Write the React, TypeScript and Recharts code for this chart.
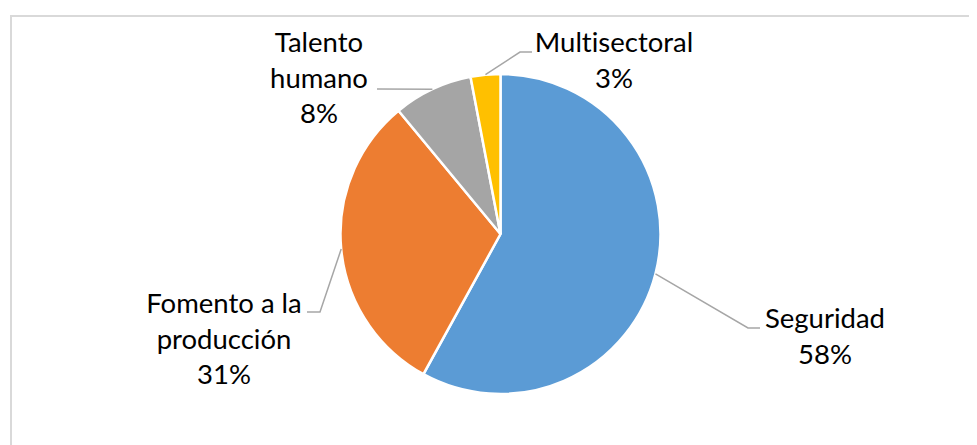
import React from "react";
import { PieChart, Pie, Cell } from "recharts";

const categories = ["Seguridad", "Fomento a la producción", "Talento humano", "Multisectoral"];
const values = [58, 31, 8, 3];
const nameLines = [["Seguridad"], ["Fomento a la", "producción"], ["Talento", "humano"], ["Multisectoral"]];
const colors = ["#5B9BD5", "#ED7D31", "#A5A5A5", "#FFC000"];

const data = categories.map((name, i) => ({ name, value: values[i] }));
const total = values.reduce((a, b) => a + b, 0);

// label placement (chart coordinates)
const labelLayout = [
  { x: 817, y: 320, elbow: [740, 320], end: [752, 320] },
  { x: 216, y: 305, elbow: [312, 304], end: [299, 304] },
  { x: 311, y: 44, elbow: null, end: [369, 81] },
  { x: 606, y: 44, elbow: [512, 44], end: [524, 44] },
];

const FONT = "Lato, 'Open Sans', sans-serif";
const FS = 27.5;
const LH = 35.5;

const RAD = Math.PI / 180;

const renderLabel = (props: any) => {
  const { cx, cy, midAngle, outerRadius, index, value } = props;
  const L = labelLayout[index];
  const sx = cx + outerRadius * Math.cos(-midAngle * RAD);
  const sy = cy + outerRadius * Math.sin(-midAngle * RAD);
  const pts = [[sx, sy]];
  if (L.elbow) pts.push(L.elbow as number[]);
  pts.push(L.end);
  const lines = [...nameLines[index], `${Math.round((value / total) * 100)}%`];
  return (
    <g key={`lbl-${index}`}>
      <polyline
        points={pts.map((p) => p.join(",")).join(" ")}
        fill="none"
        stroke="#A6A6A6"
        strokeWidth={1.5}
      />
      <text
        x={L.x}
        y={L.y}
        textAnchor="middle"
        fontFamily={FONT}
        fontSize={FS}
        fill="#000"
        style={{ fontVariantLigatures: "none" }}
      >
        {lines.map((t, i) => (
          <tspan key={i} x={L.x} y={L.y + i * LH}>
            {t}
          </tspan>
        ))}
      </text>
    </g>
  );
};

export default function App() {
  return (
    <div style={{ position: "relative", width: 969, height: 437, overflow: "hidden" }}>
      <div
        style={{
          position: "absolute",
          left: 2,
          top: 7,
          width: 1200,
          height: 1200,
          border: "2px solid #D9D9D9",
          boxSizing: "border-box",
        }}
      />
      <div style={{ position: "absolute", left: 0, top: 0 }}>
        <PieChart width={969} height={437} margin={{ top: 0, right: 0, bottom: 0, left: 0 }}>
          <Pie
            data={data}
            dataKey="value"
            nameKey="name"
            cx={492.5}
            cy={226}
            outerRadius={160}
            startAngle={90}
            endAngle={-270}
            stroke="#FFFFFF"
            strokeWidth={2.5}
            label={renderLabel}
            labelLine={false}
            isAnimationActive={false}
          >
            {data.map((d, i) => (
              <Cell key={d.name} fill={colors[i]} />
            ))}
          </Pie>
        </PieChart>
      </div>
    </div>
  );
}
